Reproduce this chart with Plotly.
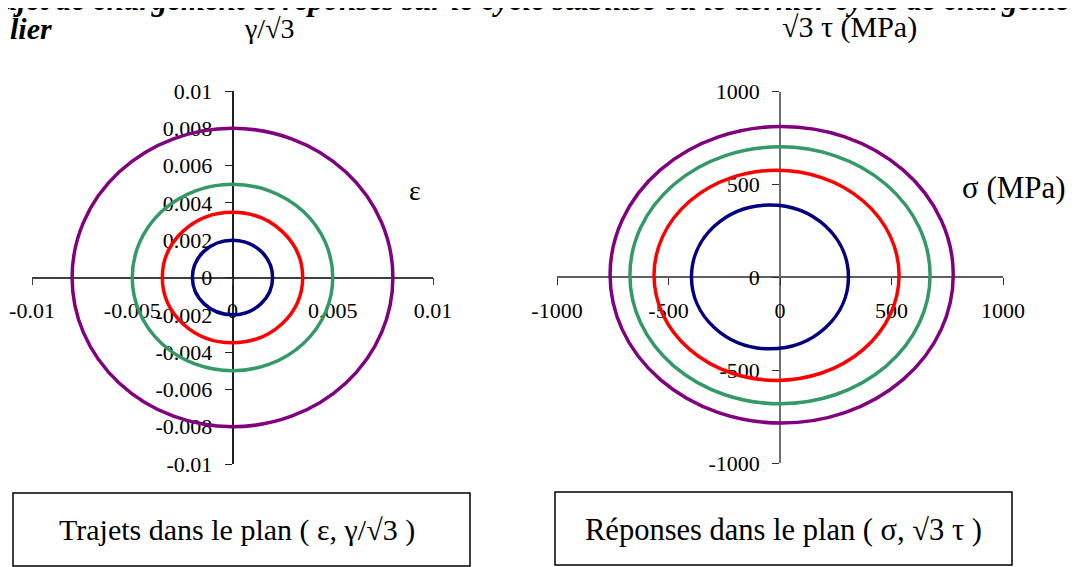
import plotly.graph_objects as go

# Left plot: strain paths (eps, gamma/sqrt3), circles given by radius
path_colors = ["#800080", "#339966", "#FF0000", "#000080"]
path_eps_radius = [0.008, 0.005, 0.0035, 0.002]
path_gam_radius = [0.008, 0.005, 0.0035, 0.002]

# Right plot: stress responses (sigma, sqrt3 tau), ellipse bounds in MPa
resp_sig_min = [-762, -673, -565, -397]
resp_sig_max = [777, 673, 534, 307]
resp_tau_min = [-785, -681, -555, -385]
resp_tau_max = [813, 703, 577, 390]

# tick labels
left_xticks = [-0.01, -0.005, 0, 0.005, 0.01]
left_xtext = ["-0.01", "-0.005", "0", "0.005", "0.01"]
left_yticks = [-0.01, -0.008, -0.006, -0.004, -0.002, 0, 0.002, 0.004, 0.006, 0.008, 0.01]
left_ytext = ["-0.01", "-0.008", "-0.006", "-0.004", "-0.002", "0",
              "0.002", "0.004", "0.006", "0.008", "0.01"]
right_ticks = [-1000, -500, 0, 500, 1000]
right_text = ["-1000", "-500", "0", "500", "1000"]

# the page body has an 8px margin, so the figure sits 8px in from the corner
OFF = 8
W, H = 1078 - OFF, 567 - OFF
FONT = "Liberation Serif, serif"


def px(x):
    return (x - OFF) / W


def py(y):
    return 1 - (y - OFF) / H


lx = [px(32), px(433)]
ly = [py(464), py(91)]
rx = [px(557), px(1003)]
ry = [py(463), py(91.7)]

fig = go.Figure()
fig.add_trace(go.Scatter(x=[], y=[], xaxis="x", yaxis="y", showlegend=False))
fig.add_trace(go.Scatter(x=[], y=[], xaxis="x2", yaxis="y2", showlegend=False))

shapes = []
for c, re, rg in zip(path_colors, path_eps_radius, path_gam_radius):
    shapes.append(dict(type="circle", xref="x", yref="y",
                       x0=-re, x1=re, y0=-rg, y1=rg,
                       line=dict(color=c, width=3.5)))
for c, s0, s1, t0, t1 in zip(path_colors, resp_sig_min, resp_sig_max,
                             resp_tau_min, resp_tau_max):
    shapes.append(dict(type="circle", xref="x2", yref="y2",
                       x0=s0, x1=s1, y0=t0, y1=t1,
                       line=dict(color=c, width=3.5)))

# caption boxes
shapes.append(dict(type="rect", xref="paper", yref="paper",
                   x0=px(13), x1=px(470), y0=py(566), y1=py(493),
                   line=dict(color="black", width=1.5)))
shapes.append(dict(type="rect", xref="paper", yref="paper",
                   x0=px(555), x1=px(1012), y0=py(565), y1=py(492),
                   line=dict(color="black", width=1.5)))

tickfont = dict(family=FONT, size=22, color="black")
axis_common = dict(showgrid=False, zeroline=False, showline=True,
                   ticks="outside", ticklen=7, tickfont=tickfont,
                   anchor="free", tickmode="array", automargin=False)

fig.update_layout(
    template="none",
    width=W, height=H,
    margin=dict(l=0, r=0, t=0, b=0, pad=0, autoexpand=False),
    paper_bgcolor="white", plot_bgcolor="white",
    showlegend=False,
    font=dict(family=FONT, color="black"),
    xaxis=dict(axis_common, domain=lx, range=[-0.01, 0.01],
               position=sum(ly) / 2, tickvals=left_xticks, ticktext=left_xtext,
               linecolor="#404040", tickcolor="#404040", linewidth=1.5,
               ticklabelstandoff=6),
    yaxis=dict(axis_common, domain=ly, range=[-0.01, 0.01],
               position=sum(lx) / 2, tickvals=left_yticks, ticktext=left_ytext,
               linecolor="#202020", tickcolor="#202020", linewidth=1.5,
               ticklabelstandoff=8),
    xaxis2=dict(axis_common, domain=rx, range=[-1000, 1000],
                position=sum(ry) / 2, tickvals=right_ticks, ticktext=right_text,
                linecolor="#606060", tickcolor="#303030", linewidth=1.5,
                ticklabelstandoff=6),
    yaxis2=dict(axis_common, domain=ry, range=[-1000, 1000],
                position=sum(rx) / 2, tickvals=right_ticks, ticktext=right_text,
                linecolor="#707070", tickcolor="#303030", linewidth=1.5,
                ticklabelstandoff=8),
    shapes=shapes,
)

labfont = dict(family=FONT, size=28, color="black")
ann = [
    dict(x=px(269), y=py(28), text="γ/√3", font=labfont),
    dict(x=px(849), y=py(27), text="√3 τ (MPa)", font=dict(family=FONT, size=30, color="black")),
    dict(x=px(415), y=py(190), text="ε", font=labfont),
    dict(x=px(1014), y=py(187), text="σ (MPa)", font=dict(family=FONT, size=31, color="black")),
    dict(x=px(237), y=py(530), text="Trajets dans le plan ( ε, γ/√3 )",
         font=dict(family=FONT, size=30, color="black")),
    dict(x=px(783), y=py(530), text="Réponses dans le plan ( σ, √3 τ )",
         font=dict(family=FONT, size=30.5, color="black")),
    dict(x=px(-30), y=py(19), xanchor="left", yanchor="bottom",
         text="<b><i>Trajet de chargement et réponses sur le cycle stabilisé "
              "ou le dernier cycle de chargement</i></b>",
         font=dict(family=FONT, size=31, color="black")),
    dict(x=0, y=py(47), xanchor="left", yanchor="bottom",
         text="<b><i>lier</i></b>",
         font=dict(family=FONT, size=30, color="black")),
]
for a in ann:
    a.setdefault("xanchor", "center")
    a.setdefault("yanchor", "middle")
    fig.add_annotation(xref="paper", yref="paper", showarrow=False, **a)

fig.write_html("out.html")
